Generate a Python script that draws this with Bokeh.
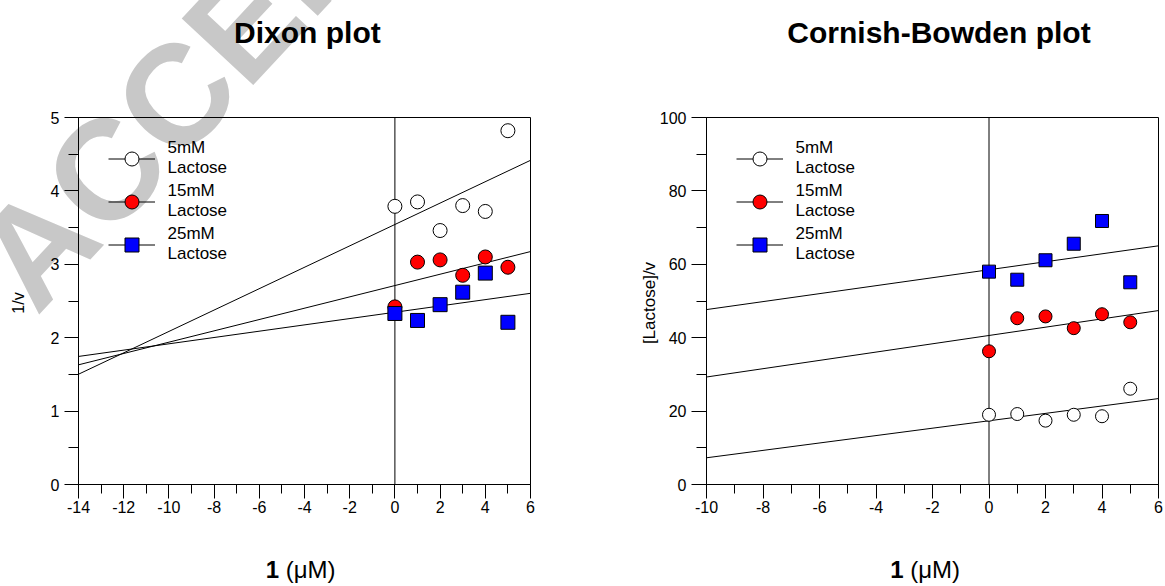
import numpy as np
from bokeh.plotting import figure
from bokeh.models import (Range1d, SingleIntervalTicker, Span, Legend, LegendItem,
                          GridBox, PrintfTickFormatter, Div)
from bokeh.embed import file_html
from bokeh.resources import INLINE

FONT = "Liberation Sans"

# ---------------- data ----------------
inhibitor_uM = [0, 1, 2, 3, 4, 5]
series_labels = ["5mM\nLactose", "15mM\nLactose", "25mM\nLactose"]

dixon_5mM = [3.79, 3.85, 3.46, 3.80, 3.72, 4.82]
dixon_15mM = [2.42, 3.03, 3.06, 2.85, 3.10, 2.96]
dixon_25mM = [2.33, 2.235, 2.45, 2.62, 2.88, 2.21]

cb_5mM = [19.0, 19.2, 17.4, 19.0, 18.6, 26.1]
cb_15mM = [36.3, 45.3, 45.8, 42.6, 46.4, 44.2]
cb_25mM = [58.0, 55.8, 61.1, 65.6, 71.8, 55.1]

dixon_xrange = [-14, 6]
dixon_yrange = [0, 5]
cb_xrange = [-10, 6]
cb_yrange = [0, 100]

titles = ["Dixon plot", "Cornish-Bowden plot"]
ylabels = ["1/v", "[Lactose]/v"]
xlabel_bold = "1"
xlabel_rest = " (\u03bcM)"
watermark = "ACCEPTED MANUSCRIPT"

marker_types = ["circle", "circle", "square"]
marker_fills = ["#FFFFFF", "#FF0000", "#0000FF"]

W, H = 1165, 586
ASC = 0.8465  # baseline offset (em) inside a line box of height 1em


def make_fig(width, xr, yr, yint, mb_left, mb_right, mb_top, ytick_out):
    p = figure(width=width, height=H, x_range=Range1d(*xr), y_range=Range1d(*yr),
               output_backend="svg", toolbar_location=None,
               min_border_left=mb_left, min_border_right=mb_right,
               min_border_top=mb_top, min_border_bottom=H - mb_top - 368)
    p.background_fill_color = None
    p.border_fill_color = None
    p.xgrid.visible = False
    p.ygrid.visible = False
    p.outline_line_color = "black"
    p.outline_line_width = 1
    p.xaxis.ticker = SingleIntervalTicker(interval=2, num_minor_ticks=2)
    p.yaxis.ticker = SingleIntervalTicker(interval=yint, num_minor_ticks=2)
    for ax in (p.xaxis[0], p.yaxis[0]):
        ax.formatter = PrintfTickFormatter(format="%d")
        ax.axis_line_color = "black"
        ax.axis_line_width = 1
        ax.major_tick_line_color = "black"
        ax.minor_tick_line_color = "black"
        ax.major_tick_in = 0
        ax.minor_tick_in = 0
        ax.major_label_text_font = FONT
        ax.major_label_text_font_size = "16px"
        ax.major_label_text_color = "black"
    p.xaxis.major_tick_out = 14
    p.xaxis.minor_tick_out = 9
    p.xaxis.major_label_standoff = 2
    p.yaxis.major_tick_out = ytick_out
    p.yaxis.minor_tick_out = 10
    p.yaxis.major_label_standoff = 5
    return p


def add_series(p, xr, ys_list, msize):
    items = []
    lines = []
    for ys in ys_list:
        slope, icpt = np.polyfit(inhibitor_uM, ys, 1)
        xe = np.array(xr, dtype=float)
        lines.append(p.line(xe, slope * xe + icpt, line_color="black", line_width=1))
    for i, ys in enumerate(ys_list):
        sc = p.scatter(inhibitor_uM, ys, marker=marker_types[i], size=msize,
                       fill_color=marker_fills[i], line_color="black", line_width=1)
        items.append(LegendItem(label=series_labels[i], renderers=[lines[i], sc]))
    return items


def add_legend(p, items):
    legend = Legend(items=items, location=(29.5, 220), orientation="vertical",
                    glyph_width=47, glyph_height=35, label_height=40,
                    label_standoff=13, spacing=3, padding=0, margin=0,
                    background_fill_alpha=0, border_line_alpha=0,
                    label_text_font=FONT, label_text_font_size="17px",
                    label_text_color="black")
    p.add_layout(legend)


# ---------------- page texts (HTML layer under the transparent plots) ----------------
def span_at_baseline(x, baseline, size, html, extra="", anchor="left"):
    top = baseline - ASC * size
    tr = "transform:translateX(-50%);" if anchor == "center" else ""
    return (f'<span style="position:absolute;left:{x:.1f}px;top:{top:.1f}px;'
            f'font-size:{size}px;line-height:{size}px;white-space:nowrap;{tr}{extra}">'
            f'{html}</span>')


def vertical_label(cx, cy, size, text):
    return (f'<span style="position:absolute;left:{cx:.1f}px;top:{cy:.1f}px;'
            f'font-size:{size}px;line-height:{size}px;white-space:nowrap;'
            f'transform:translate(-50%,-50%) rotate(-90deg);">{text}</span>')


parts = []
wm_size = 142
wm_x, wm_base = 37.0, 317.0
wm_top = wm_base - ASC * wm_size
parts.append(
    f'<span style="position:absolute;left:{wm_x:.1f}px;top:{wm_top:.1f}px;font-size:{wm_size}px;'
    f'line-height:{wm_size}px;font-weight:bold;color:#c8c8c8;white-space:nowrap;'
    f'transform-origin:0px {ASC * wm_size:.1f}px;transform:rotate(-47deg);">{watermark}</span>')
parts.append(span_at_baseline(307.4, 43.3, 30, titles[0], "font-weight:bold;", "center"))
parts.append(span_at_baseline(939.0, 43.3, 30, titles[1], "font-weight:bold;", "center"))
for split_x in (279.0, 903.5):
    parts.append(span_at_baseline(split_x - 0.556 * 24, 578.0, 24,
                                  f"<b>{xlabel_bold}</b>{xlabel_rest}"))
parts.append(vertical_label(19.2, 302.5, 16, ylabels[0]))
parts.append(vertical_label(649.2, 302.5, 17, ylabels[1]))

html = (f'<div style="position:relative;width:{W}px;height:{H}px;overflow:hidden;'
        f"font-family:'{FONT}';color:black;background:white;\">" + "".join(parts) + "</div>")
page = Div(text=html, width=W, height=H, margin=0)

# ---------------- Dixon plot ----------------
p1 = make_fig(610, dixon_xrange, dixon_yrange, 1, 78, 80, 117, 14)
p1.add_layout(Span(location=0, dimension="height", line_color="black", line_width=1,
                   level="underlay"))
add_legend(p1, add_series(p1, dixon_xrange, [dixon_5mM, dixon_15mM, dixon_25mM], 14))

# ---------------- Cornish-Bowden plot ----------------
p2 = make_fig(555, cb_xrange, cb_yrange, 20, 96, 7, 116, 15)
p2.add_layout(Span(location=0, dimension="height", line_color="black", line_width=1,
                   level="underlay"))
add_legend(p2, add_series(p2, cb_xrange, [cb_5mM, cb_15mM, cb_25mM], 13))

grid = GridBox(children=[(page, 0, 0, 1, 2), (p1, 0, 0), (p2, 0, 1)], spacing=0)
open("out.html", "w").write(file_html(grid, INLINE))
